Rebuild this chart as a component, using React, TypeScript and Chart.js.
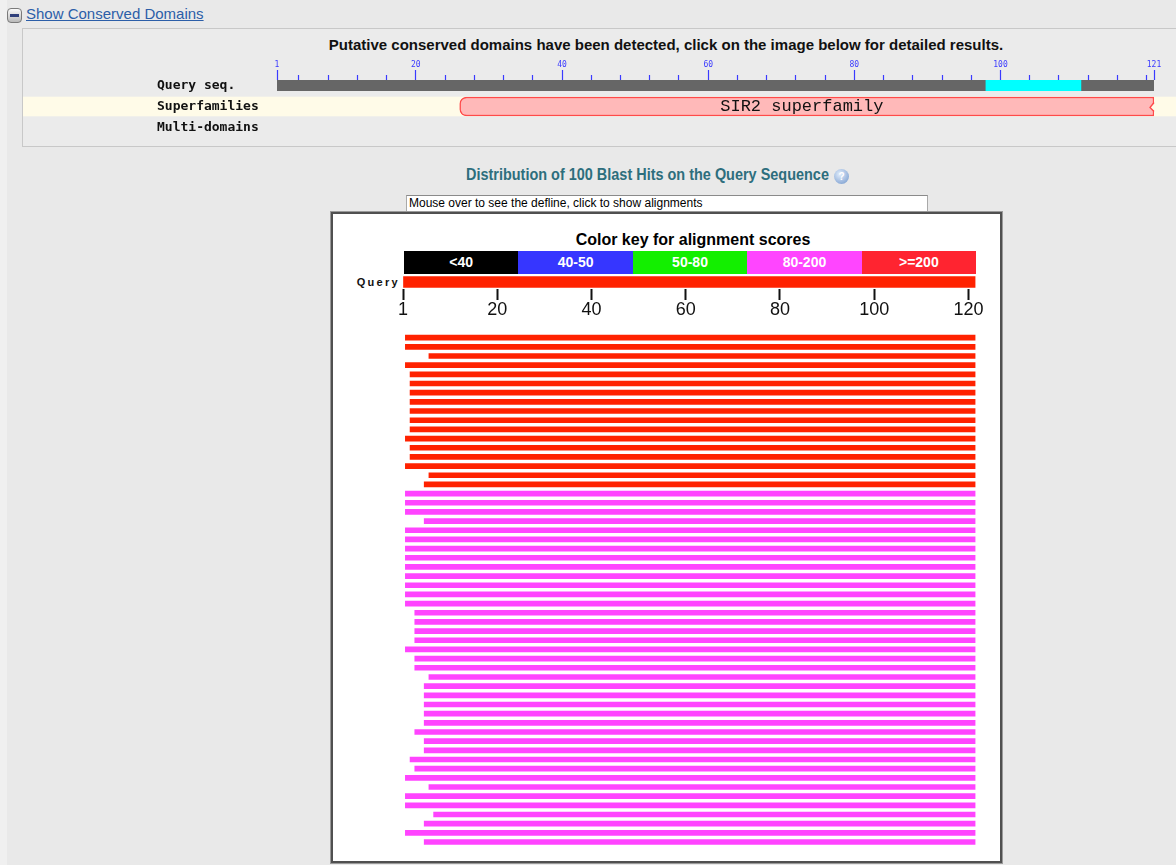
import React, { useEffect, useRef } from "react";
import { Chart, registerables } from "chart.js";

Chart.register(...registerables);

const SANS = '"Liberation Sans", Arial, Helvetica, sans-serif';
const MONO = '"DejaVu Sans Mono", "Liberation Mono", monospace';

// ---------- Conserved domains panel ----------
const CDD_LINK = "Show Conserved Domains";
const CDD_TITLE =
  "Putative conserved domains have been detected, click on the image below for detailed results.";
const CDD_ROW_LABELS = ["Query seq.", "", "Superfamilies", "", "Multi-domains"];
const CDD_TICK_LABELS = [1, 20, 40, 60, 80, 100, 121];
const CDD_MINOR_TICKS = [
  4, 8, 12, 16, 24, 28, 32, 36, 44, 48, 52, 56, 64, 68, 72, 76, 84, 88, 92, 96, 104, 108, 112, 116, 120,
];
const CDD_QUERY_SPAN = [1, 121];
const CDD_SITE_SPAN = [98, 111];
const SUPERFAMILY_NAME = "SIR2 superfamily";
const SUPERFAMILY_SPAN = [26, 121];

// ---------- Blast hit distribution ----------
const GRAPH_TITLE = "Distribution of 100 Blast Hits on the Query Sequence";
const DEFLINE_HINT = "Mouse over to see the defline, click to show alignments";
const KEY_TITLE = "Color key for alignment scores";
const SCORE_BINS = ["<40", "40-50", "50-80", "80-200", ">=200"];
const SCORE_KEY_COLORS = ["#000000", "#3636ff", "#13ef00", "#ff45ff", "#ff2430"];
const HIT_BAR_COLORS = ["#000000", "#3636ff", "#13ef00", "#ff44ff", "#ff2200"];
const QUERY_LABEL = "Query";
const QUERY_LENGTH = 121;
const AXIS_TICK_VALUES = [0, 20, 40, 60, 80, 100, 120];
const AXIS_TICK_LABELS = ["1", "20", "40", "60", "80", "100", "120"];

const HIT_STARTS = [
  1, 1, 6, 1, 2, 2, 2, 2, 2, 2, 2, 1, 2, 2, 1, 6, 5,
  1, 1, 1, 5, 1, 1, 1, 1, 1, 1, 1, 1, 1, 3, 3, 3, 3, 1, 3,
  3, 6, 5, 5, 5, 5, 5, 3, 5, 5, 2, 3, 1, 6, 1, 1, 7, 5, 1, 5,
];
const HIT_ENDS = [
  121, 121, 121, 121, 121, 121, 121, 121, 121, 121, 121, 121, 121, 121, 121, 121, 121,
  121, 121, 121, 121, 121, 121, 121, 121, 121, 121, 121, 121, 121, 121, 121, 121, 121, 121, 121,
  121, 121, 121, 121, 121, 121, 121, 121, 121, 121, 121, 121, 121, 121, 121, 121, 121, 121, 121, 121,
];
// index into SCORE_BINS
const HIT_SCORE_BINS = [
  4, 4, 4, 4, 4, 4, 4, 4, 4, 4, 4, 4, 4, 4, 4, 4, 4,
  3, 3, 3, 3, 3, 3, 3, 3, 3, 3, 3, 3, 3, 3, 3, 3, 3, 3, 3,
  3, 3, 3, 3, 3, 3, 3, 3, 3, 3, 3, 3, 3, 3, 3, 3, 3, 3, 3, 3,
];

const cddDecor = {
  id: "cddDecor",
  beforeDraw(chart: any) {
    const y = chart.scales.y;
    const yc = y.getPixelForValue(2);
    const ctx = chart.ctx;
    ctx.save();
    ctx.fillStyle = "#fffbe8";
    ctx.fillRect(0, yc - 9.8, chart.width, 19.6);
    ctx.restore();
  },
  afterDatasetsDraw(chart: any) {
    const meta = chart.getDatasetMeta(2);
    const el = meta.data[2];
    if (!el) return;
    const ctx = chart.ctx;
    const c = el.getCenterPoint();
    const xr = el.x;
    const yc = el.y;
    // jagged (truncated) right end
    ctx.save();
    ctx.fillStyle = "#fffbe8";
    ctx.beginPath();
    ctx.moveTo(xr + 1, yc - 4);
    ctx.lineTo(xr - 4, yc + 1);
    ctx.lineTo(xr + 1, yc + 5);
    ctx.closePath();
    ctx.fill();
    ctx.strokeStyle = "#ff4a4a";
    ctx.lineWidth = 1.3;
    ctx.beginPath();
    ctx.moveTo(xr, yc - 4);
    ctx.lineTo(xr - 4, yc + 1);
    ctx.lineTo(xr, yc + 5);
    ctx.stroke();
    ctx.font = '17px "Liberation Mono", monospace';
    ctx.fillStyle = "#111";
    ctx.textAlign = "center";
    ctx.textBaseline = "middle";
    ctx.fillText(SUPERFAMILY_NAME, c.x - 5, c.y);
    ctx.restore();
  },
};

export default function App() {
  const cddRef = useRef<HTMLCanvasElement>(null);
  const queryRef = useRef<HTMLCanvasElement>(null);
  const hitsRef = useRef<HTMLCanvasElement>(null);

  useEffect(() => {
    document.body.style.margin = "0";
    document.body.style.background = "#f0f0f0";
    const charts: Chart[] = [];
    const isMajor = (v: any) => CDD_TICK_LABELS.includes(v);

    charts.push(
      new Chart(cddRef.current!, {
        type: "bar",
        data: {
          labels: CDD_ROW_LABELS,
          datasets: [
            {
              label: "site",
              data: [CDD_SITE_SPAN, null, null, null, null] as any,
              backgroundColor: "#00ffff",
              grouped: false,
              barPercentage: 1,
              categoryPercentage: 1,
            } as any,
            {
              label: "query",
              data: [CDD_QUERY_SPAN, null, null, null, null] as any,
              backgroundColor: "#666666",
              grouped: false,
              barPercentage: 1,
              categoryPercentage: 1,
            },
            {
              label: "superfamily",
              data: [null, null, SUPERFAMILY_SPAN, null, null] as any,
              backgroundColor: "#ffb9b9",
              borderColor: "#ff4a4a",
              borderWidth: 1.5,
              borderSkipped: false,
              borderRadius: { topLeft: 7, bottomLeft: 7, topRight: 0, bottomRight: 0 },
              barThickness: 19,
              grouped: false,
            },
          ],
        },
        options: {
          indexAxis: "y",
          animation: false,
          responsive: false,
          devicePixelRatio: 1,
          events: [],
          layout: { padding: { left: 134, right: 22, top: 0, bottom: 11 } },
          plugins: { legend: { display: false }, tooltip: { enabled: false } },
          scales: {
            x: {
              type: "linear",
              position: "top",
              min: CDD_QUERY_SPAN[0],
              max: CDD_QUERY_SPAN[1],
              afterBuildTicks: (s: any) => {
                s.ticks = [...CDD_TICK_LABELS, ...CDD_MINOR_TICKS]
                  .sort((a, b) => a - b)
                  .map((v) => ({ value: v }));
              },
              afterFit: (s: any) => {
                s.height = 25;
              },
              ticks: {
                autoSkip: false,
                maxRotation: 0,
                padding: 0,
                color: "#3a3aff",
                font: { family: MONO, size: 8 },
                callback: (v: any) => (isMajor(v) ? String(v) : ""),
              },
              grid: {
                drawOnChartArea: false,
                drawTicks: true,
                tickLength: 10,
                tickWidth: 1.2,
                tickColor: "#3a3aff",
                tickBorderDash: (ctx: any) => (isMajor(ctx.tick?.value) ? [] : [5, 5]),
                tickBorderDashOffset: (ctx: any) => (isMajor(ctx.tick?.value) ? 0 : 5),
              } as any,
              border: { display: false },
            },
            y: {
              type: "category",
              afterFit: (s: any) => {
                s.width = 120;
              },
              grid: { display: false },
              border: { display: false },
              ticks: {
                crossAlign: "far",
                padding: 0,
                autoSkip: false,
                color: "#111",
                font: { family: MONO, size: 13, weight: "bold" },
              },
            },
          },
        } as any,
        plugins: [cddDecor],
      })
    );

    charts.push(
      new Chart(queryRef.current!, {
        type: "bar",
        data: {
          labels: [QUERY_LABEL],
          datasets: [
            {
              data: [[0, QUERY_LENGTH + 0.5]] as any,
              backgroundColor: HIT_BAR_COLORS[4],
              barThickness: 11,
            },
          ],
        },
        options: {
          indexAxis: "y",
          animation: false,
          responsive: false,
          devicePixelRatio: 1,
          events: [],
          layout: { padding: { left: 67, right: 22.5, top: 5, bottom: 0 } },
          plugins: { legend: { display: false }, tooltip: { enabled: false } },
          scales: {
            y: { display: false },
            x: {
              type: "linear",
              position: "bottom",
              min: 0,
              max: QUERY_LENGTH + 0.5,
              afterBuildTicks: (s: any) => {
                s.ticks = AXIS_TICK_VALUES.map((v) => ({ value: v }));
              },
              afterFit: (s: any) => {
                s.height = 33;
              },
              ticks: {
                autoSkip: false,
                maxRotation: 0,
                padding: -1,
                color: "#111",
                font: { family: SANS, size: 18 },
                callback: (v: any) => AXIS_TICK_LABELS[AXIS_TICK_VALUES.indexOf(v)],
              },
              grid: {
                drawOnChartArea: false,
                drawTicks: true,
                tickLength: 11,
                tickWidth: 2,
                tickColor: "#111",
              },
              border: { display: false },
            },
          },
        } as any,
      })
    );

    charts.push(
      new Chart(hitsRef.current!, {
        type: "bar",
        data: {
          labels: HIT_STARTS.map((_, i) => `hit ${i + 1}`),
          datasets: [
            {
              data: HIT_STARTS.map((s, i) => [s - 0.5, HIT_ENDS[i] + 0.5]) as any,
              backgroundColor: HIT_SCORE_BINS.map((b) => HIT_BAR_COLORS[b]),
              barThickness: 5,
            },
          ],
        },
        options: {
          indexAxis: "y",
          animation: false,
          responsive: false,
          devicePixelRatio: 1,
          events: [],
          layout: { padding: { left: 67, right: 22.5, top: 3.1, bottom: 14.4 } },
          plugins: { legend: { display: false }, tooltip: { enabled: false } },
          scales: {
            x: { type: "linear", display: false, min: 0, max: QUERY_LENGTH + 0.5 },
            y: { type: "category", display: false },
          },
        } as any,
      })
    );

    return () => charts.forEach((c) => c.destroy());
  }, []);

  const abs = (o: any) => ({ position: "absolute" as const, ...o });

  return (
    <div
      style={{
        position: "relative",
        width: 1176,
        height: 865,
        overflow: "hidden",
        fontFamily: SANS,
        background: "#f0f0f0",
      }}
    >
      <div style={abs({ left: 7, top: 0, width: 1169, height: 865, background: "#e9e9e9" })} />

      {/* Show Conserved Domains link */}
      <div
        style={abs({
          left: 7,
          top: 8,
          width: 13,
          height: 13,
          border: "1px solid #7a7a7a",
          borderRadius: 4,
          background: "linear-gradient(#fafafa, #b9b9b9)",
        })}
      >
        <div style={abs({ left: 2, top: 5, width: 9, height: 3, background: "#2f3f7a" })} />
      </div>
      <div
        style={abs({
          left: 26,
          top: 5,
          fontSize: 15,
          lineHeight: "18px",
          color: "#2c5ea8",
          textDecoration: "underline",
        })}
      >
        {CDD_LINK}
      </div>

      {/* Conserved domains box */}
      <div
        style={abs({
          left: 22,
          top: 28,
          width: 1200,
          height: 117,
          border: "1px solid #c8c8c8",
          background: "#ebebeb",
        })}
      />
      <div
        style={abs({
          left: 266,
          top: 36,
          width: 800,
          textAlign: "center",
          fontWeight: "bold",
          fontSize: 15,
          lineHeight: "18px",
          color: "#111",
          whiteSpace: "nowrap",
        })}
      >
        {CDD_TITLE}
      </div>
      <canvas ref={cddRef} width={1153} height={89} style={abs({ left: 23, top: 55 })} />

      {/* Graph title */}
      <div
        style={abs({
          left: 466,
          top: 165,
          fontWeight: "bold",
          fontSize: 17,
          lineHeight: "20px",
          color: "#2d6e7d",
          whiteSpace: "nowrap",
          transform: "scaleX(0.85)",
          transformOrigin: "0 0",
        })}
      >
        {GRAPH_TITLE}
      </div>
      <div
        style={abs({
          left: 834,
          top: 169,
          width: 15,
          height: 15,
          borderRadius: "50%",
          background: "radial-gradient(circle at 40% 35%, #e3eefc, #6d93c9)",
          color: "#fff",
          fontSize: 10,
          fontWeight: "bold",
          lineHeight: "15px",
          textAlign: "center",
        })}
      >
        ?
      </div>

      {/* defline input */}
      <div
        style={abs({
          left: 406,
          top: 195,
          width: 518,
          height: 15,
          border: "1px solid #a9a9a9",
          borderTopColor: "#8a8a8a",
          background: "#fff",
          fontSize: 12,
          lineHeight: "15px",
          paddingLeft: 2,
          color: "#000",
          whiteSpace: "nowrap",
        })}
      >
        {DEFLINE_HINT}
      </div>

      {/* Graph box */}
      <div
        style={abs({
          left: 331,
          top: 212,
          width: 671,
          height: 651,
          boxSizing: "border-box",
          border: "2px solid #505050",
          background: "#fff",
          boxShadow: "0 0 0 1px #9a9a9a",
        })}
      />
      <div
        style={abs({
          left: 404,
          top: 230,
          width: 578,
          textAlign: "center",
          fontWeight: "bold",
          fontSize: 16,
          lineHeight: "19px",
          color: "#000",
          whiteSpace: "nowrap",
        })}
      >
        {KEY_TITLE}
      </div>
      <div style={abs({ left: 404, top: 251, width: 572, height: 23, display: "flex" })}>
        {SCORE_BINS.map((b, i) => (
          <div
            key={b}
            style={{
              flex: 1,
              background: SCORE_KEY_COLORS[i],
              color: "#fff",
              fontWeight: "bold",
              fontSize: 14,
              lineHeight: "23px",
              textAlign: "center",
            }}
          >
            {b}
          </div>
        ))}
      </div>
      <div
        style={abs({
          left: 340,
          top: 275,
          width: 60,
          textAlign: "right",
          fontWeight: "bold",
          fontSize: 11,
          lineHeight: "14px",
          letterSpacing: "2.3px",
          color: "#111",
        })}
      >
        {QUERY_LABEL}
      </div>
      <canvas ref={queryRef} width={662} height={52} style={abs({ left: 336, top: 270 })} />
      <canvas ref={hitsRef} width={662} height={531} style={abs({ left: 336, top: 330 })} />
    </div>
  );
}
